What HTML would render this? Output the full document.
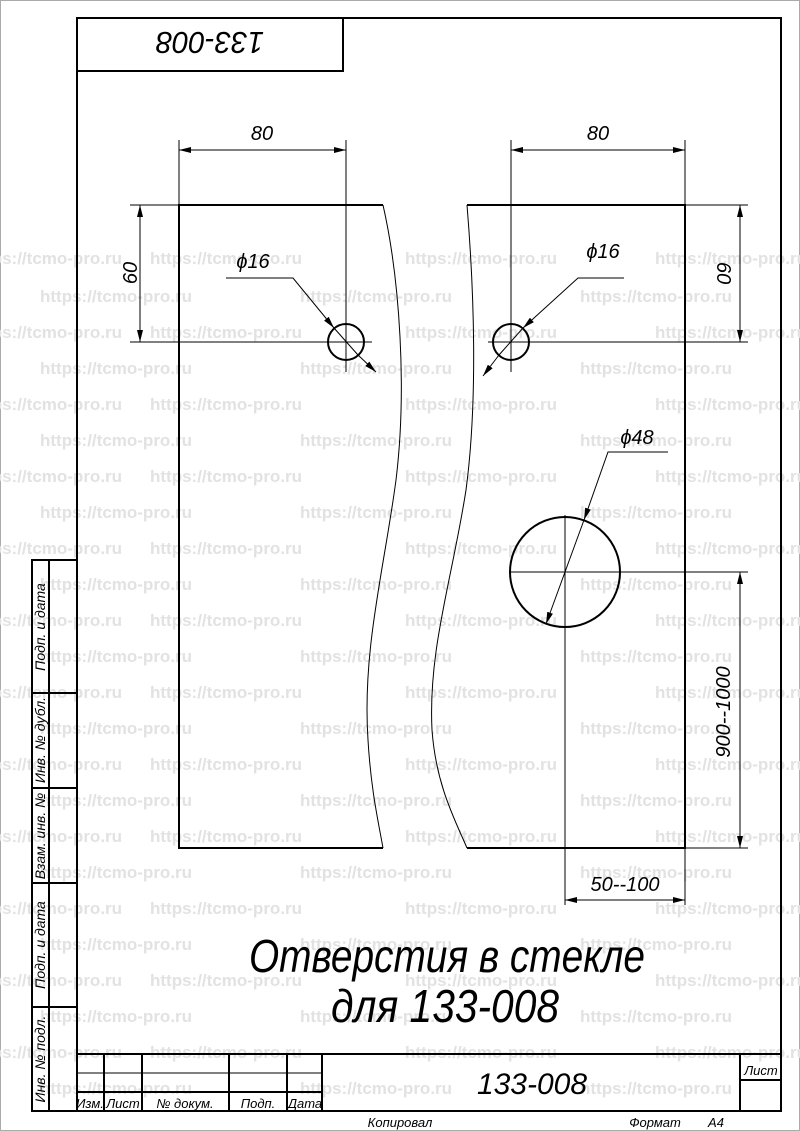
<!DOCTYPE html>
<html><head><meta charset="utf-8"><style>
html,body{margin:0;padding:0;background:#fff}
svg{display:block}
text{font-family:"Liberation Sans Narrow","Liberation Sans",sans-serif;font-style:italic}
.wm text{font-family:"Liberation Sans",sans-serif;font-style:normal;font-weight:bold;font-size:17px;fill:#e2e2e2}
</style></head><body>
<svg width="800" height="1131" viewBox="0 0 800 1131" xmlns="http://www.w3.org/2000/svg">
<defs>
<marker id="a" viewBox="0 0 12 6" refX="12" refY="3" markerWidth="12" markerHeight="6" markerUnits="userSpaceOnUse" orient="auto"><path d="M0,0 L12,3 L0,6 z" fill="#000"/></marker>
<marker id="b" viewBox="0 0 12 6" refX="0" refY="3" markerWidth="12" markerHeight="6" markerUnits="userSpaceOnUse" orient="auto"><path d="M12,0 L0,3 L12,6 z" fill="#000"/></marker>
</defs>
<rect x="0.5" y="0.5" width="799" height="1130" fill="none" stroke="#aaa" stroke-width="1"/>
<g class="wm">
<text x="-30" y="264">https://tcmo-pro.ru</text><text x="150" y="264">https://tcmo-pro.ru</text><text x="405" y="264">https://tcmo-pro.ru</text><text x="655" y="264">https://tcmo-pro.ru</text>
<text x="40" y="302">https://tcmo-pro.ru</text><text x="300" y="302">https://tcmo-pro.ru</text><text x="580" y="302">https://tcmo-pro.ru</text>
<text x="-30" y="338">https://tcmo-pro.ru</text><text x="150" y="338">https://tcmo-pro.ru</text><text x="405" y="338">https://tcmo-pro.ru</text><text x="655" y="338">https://tcmo-pro.ru</text>
<text x="40" y="374">https://tcmo-pro.ru</text><text x="300" y="374">https://tcmo-pro.ru</text><text x="580" y="374">https://tcmo-pro.ru</text>
<text x="-30" y="410">https://tcmo-pro.ru</text><text x="150" y="410">https://tcmo-pro.ru</text><text x="405" y="410">https://tcmo-pro.ru</text><text x="655" y="410">https://tcmo-pro.ru</text>
<text x="40" y="446">https://tcmo-pro.ru</text><text x="300" y="446">https://tcmo-pro.ru</text><text x="580" y="446">https://tcmo-pro.ru</text>
<text x="-30" y="482">https://tcmo-pro.ru</text><text x="150" y="482">https://tcmo-pro.ru</text><text x="405" y="482">https://tcmo-pro.ru</text><text x="655" y="482">https://tcmo-pro.ru</text>
<text x="40" y="518">https://tcmo-pro.ru</text><text x="300" y="518">https://tcmo-pro.ru</text><text x="580" y="518">https://tcmo-pro.ru</text>
<text x="-30" y="554">https://tcmo-pro.ru</text><text x="150" y="554">https://tcmo-pro.ru</text><text x="405" y="554">https://tcmo-pro.ru</text><text x="655" y="554">https://tcmo-pro.ru</text>
<text x="40" y="590">https://tcmo-pro.ru</text><text x="300" y="590">https://tcmo-pro.ru</text><text x="580" y="590">https://tcmo-pro.ru</text>
<text x="-30" y="626">https://tcmo-pro.ru</text><text x="150" y="626">https://tcmo-pro.ru</text><text x="405" y="626">https://tcmo-pro.ru</text><text x="655" y="626">https://tcmo-pro.ru</text>
<text x="40" y="662">https://tcmo-pro.ru</text><text x="300" y="662">https://tcmo-pro.ru</text><text x="580" y="662">https://tcmo-pro.ru</text>
<text x="-30" y="698">https://tcmo-pro.ru</text><text x="150" y="698">https://tcmo-pro.ru</text><text x="405" y="698">https://tcmo-pro.ru</text><text x="655" y="698">https://tcmo-pro.ru</text>
<text x="40" y="734">https://tcmo-pro.ru</text><text x="300" y="734">https://tcmo-pro.ru</text><text x="580" y="734">https://tcmo-pro.ru</text>
<text x="-30" y="770">https://tcmo-pro.ru</text><text x="150" y="770">https://tcmo-pro.ru</text><text x="405" y="770">https://tcmo-pro.ru</text><text x="655" y="770">https://tcmo-pro.ru</text>
<text x="40" y="806">https://tcmo-pro.ru</text><text x="300" y="806">https://tcmo-pro.ru</text><text x="580" y="806">https://tcmo-pro.ru</text>
<text x="-30" y="842">https://tcmo-pro.ru</text><text x="150" y="842">https://tcmo-pro.ru</text><text x="405" y="842">https://tcmo-pro.ru</text><text x="655" y="842">https://tcmo-pro.ru</text>
<text x="40" y="878">https://tcmo-pro.ru</text><text x="300" y="878">https://tcmo-pro.ru</text><text x="580" y="878">https://tcmo-pro.ru</text>
<text x="-30" y="914">https://tcmo-pro.ru</text><text x="150" y="914">https://tcmo-pro.ru</text><text x="405" y="914">https://tcmo-pro.ru</text><text x="655" y="914">https://tcmo-pro.ru</text>
<text x="40" y="950">https://tcmo-pro.ru</text><text x="300" y="950">https://tcmo-pro.ru</text><text x="580" y="950">https://tcmo-pro.ru</text>
<text x="-30" y="986">https://tcmo-pro.ru</text><text x="150" y="986">https://tcmo-pro.ru</text><text x="405" y="986">https://tcmo-pro.ru</text><text x="655" y="986">https://tcmo-pro.ru</text>
<text x="40" y="1022">https://tcmo-pro.ru</text><text x="300" y="1022">https://tcmo-pro.ru</text><text x="580" y="1022">https://tcmo-pro.ru</text>
<text x="-30" y="1058">https://tcmo-pro.ru</text><text x="150" y="1058">https://tcmo-pro.ru</text><text x="405" y="1058">https://tcmo-pro.ru</text><text x="655" y="1058">https://tcmo-pro.ru</text>
<text x="40" y="1094">https://tcmo-pro.ru</text><text x="300" y="1094">https://tcmo-pro.ru</text><text x="580" y="1094">https://tcmo-pro.ru</text>
</g>

<g fill="none" stroke="#000" stroke-width="2">
<rect x="77" y="18" width="704" height="1093"/>
<rect x="77" y="18" width="266" height="53"/>
<rect x="32" y="560" width="45" height="551"/>
<line x1="49" y1="560" x2="49" y2="1111"/>
<line x1="32" y1="693" x2="77" y2="693"/>
<line x1="32" y1="788" x2="77" y2="788"/>
<line x1="32" y1="883" x2="77" y2="883"/>
<line x1="32" y1="1007" x2="77" y2="1007"/>
<line x1="77" y1="1054" x2="781" y2="1054"/>
<line x1="104" y1="1054" x2="104" y2="1111"/>
<line x1="142" y1="1054" x2="142" y2="1111"/>
<line x1="229" y1="1054" x2="229" y2="1111"/>
<line x1="287" y1="1054" x2="287" y2="1111"/>
<line x1="322" y1="1054" x2="322" y2="1111"/>
<line x1="77" y1="1092" x2="322" y2="1092"/>
<line x1="740" y1="1054" x2="740" y2="1111"/>
<line x1="740" y1="1080" x2="781" y2="1080"/>
</g>
<line x1="77" y1="1073" x2="322" y2="1073" stroke="#000" stroke-width="1"/>

<text transform="translate(210,32) rotate(180)" font-size="31" text-anchor="middle" textLength="108" lengthAdjust="spacingAndGlyphs">133-008</text>

<g font-size="14">
<text transform="translate(45,627) rotate(-90)" text-anchor="middle">Подп. и дата</text>
<text transform="translate(45,740) rotate(-90)" text-anchor="middle">Инв. № дубл.</text>
<text transform="translate(45,836) rotate(-90)" text-anchor="middle">Взам. инв. №</text>
<text transform="translate(45,945) rotate(-90)" text-anchor="middle">Подп. и дата</text>
<text transform="translate(45,1059) rotate(-90)" text-anchor="middle">Инв. № подл.</text>
</g>
<g font-size="13" text-anchor="middle">
<text x="90" y="1108">Изм.</text>
<text x="123" y="1108">Лист</text>
<text x="185" y="1108">№ докум.</text>
<text x="258" y="1108">Подп.</text>
<text x="305" y="1108">Дата</text>
<text x="761" y="1075">Лист</text>
<text x="400" y="1127">Копировал</text>
<text x="655" y="1127">Формат</text>
<text x="716" y="1127">A4</text>
</g>
<text x="532" y="1094" font-size="30" text-anchor="middle">133-008</text>

<g fill="none" stroke="#000" stroke-width="2">
<polyline points="383,205 179,205 179,848 383,848"/>
<polyline points="467,205 685,205 685,848 467,848"/>
<circle cx="346" cy="342" r="18"/>
<circle cx="511" cy="342" r="18"/>
<circle cx="565" cy="572" r="55"/>
</g>
<g fill="none" stroke="#000" stroke-width="1">
<path d="M383,205 C400,280 407,390 396,480 C384,570 362,650 368,740 C371,790 378,820 383,848"/>
<path d="M467,205 C474,290 478,400 466,490 C452,580 428,650 432,730 C436,785 455,820 467,848"/>
<line x1="179" y1="140" x2="179" y2="205"/>
<line x1="346" y1="140" x2="346" y2="372"/>
<line x1="179" y1="150" x2="346" y2="150" marker-start="url(#b)" marker-end="url(#a)"/>
<line x1="511" y1="140" x2="511" y2="372"/>
<line x1="685" y1="140" x2="685" y2="205"/>
<line x1="511" y1="150" x2="685" y2="150" marker-start="url(#b)" marker-end="url(#a)"/>
<line x1="130" y1="205" x2="179" y2="205"/>
<line x1="130" y1="342" x2="372" y2="342"/>
<line x1="140" y1="205" x2="140" y2="342" marker-start="url(#b)" marker-end="url(#a)"/>
<line x1="685" y1="205" x2="748" y2="205"/>
<line x1="488" y1="342" x2="748" y2="342"/>
<line x1="740" y1="205" x2="740" y2="342" marker-start="url(#b)" marker-end="url(#a)"/>
<polyline points="226,278 293,278 334,328" marker-end="url(#a)"/>
<line x1="376" y1="372" x2="358" y2="355" marker-start="url(#b)"/>
<line x1="358" y1="355" x2="334" y2="328"/>
<polyline points="624,278 578,278 523,328" marker-end="url(#a)"/>
<line x1="483" y1="376" x2="499" y2="355" marker-start="url(#b)"/>
<line x1="499" y1="355" x2="523" y2="328"/>
<polyline points="668,452 608,452 584,520" marker-end="url(#a)"/>
<line x1="584" y1="520" x2="546" y2="624" marker-end="url(#a)"/>
<line x1="510" y1="572" x2="748" y2="572"/>
<line x1="565" y1="515" x2="565" y2="905"/>
<line x1="685" y1="848" x2="748" y2="848"/>
<line x1="740" y1="572" x2="740" y2="848" marker-start="url(#b)" marker-end="url(#a)"/>
<line x1="685" y1="848" x2="685" y2="905"/>
<line x1="565" y1="900" x2="685" y2="900" marker-start="url(#b)" marker-end="url(#a)"/>
</g>
<g font-size="20" text-anchor="middle">
<text x="262" y="140">80</text>
<text x="598" y="140">80</text>
<text transform="translate(130,273) rotate(-90)" dy="7">60</text>
<text transform="translate(724,273) rotate(90)" dy="7">60</text>
<text x="253" y="268">ϕ16</text>
<text x="603" y="258">ϕ16</text>
<text x="637" y="444">ϕ48</text>
<text transform="translate(730,712) rotate(-90)">900--1000</text>
<text x="625" y="891">50--100</text>
</g>
<text x="447" y="972" font-size="46" text-anchor="middle" textLength="396" lengthAdjust="spacingAndGlyphs">Отверстия в стекле</text>
<text x="445" y="1022" font-size="46" text-anchor="middle" textLength="228" lengthAdjust="spacingAndGlyphs">для 133-008</text>
</svg>
</body></html>
